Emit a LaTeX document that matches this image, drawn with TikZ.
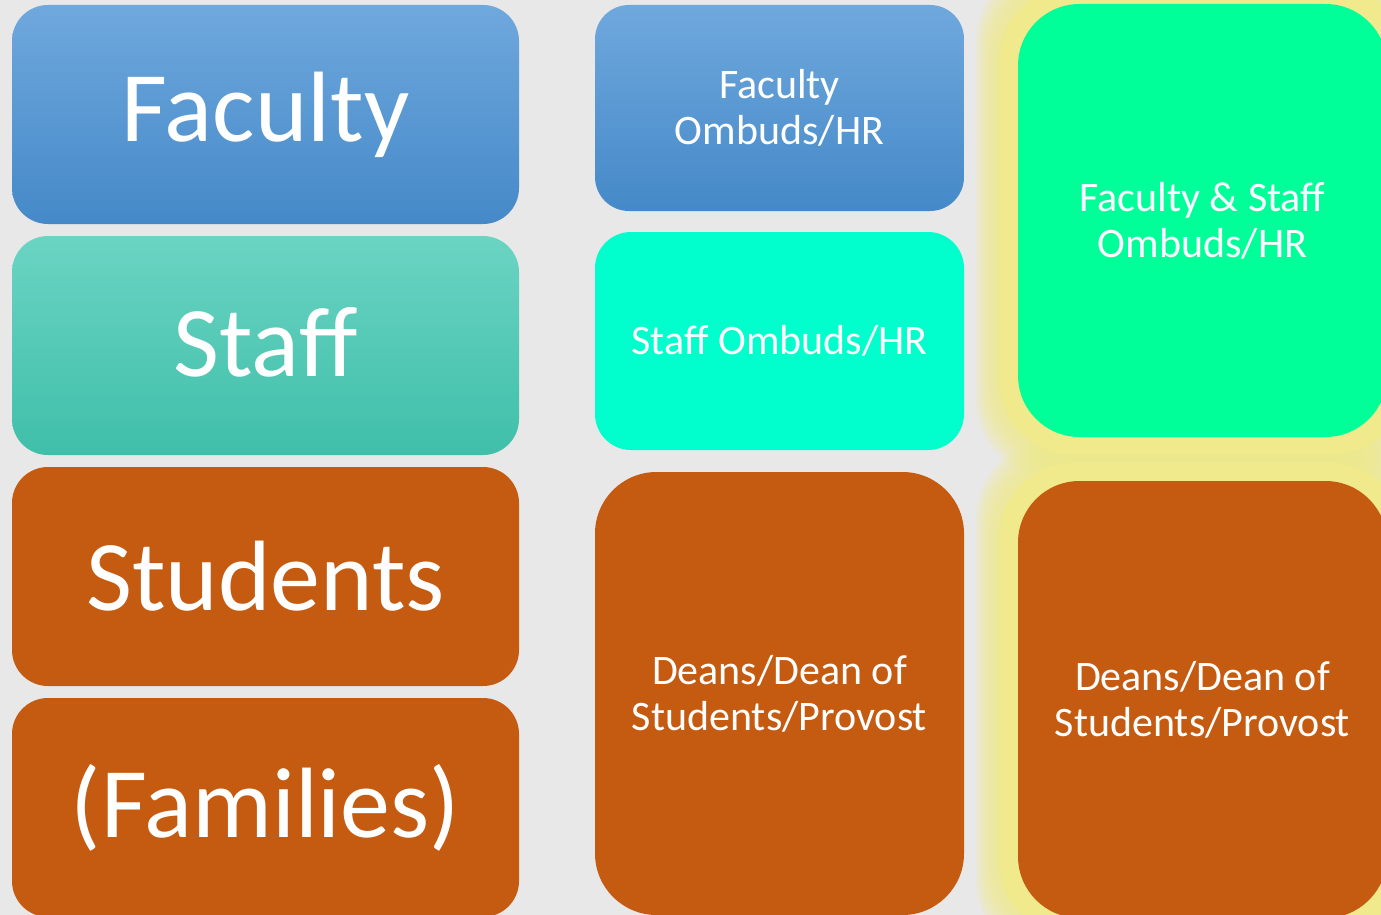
\documentclass[tikz,border=0pt]{standalone}
\usepackage{fontspec}
\setmainfont{Carlito}
\usetikzlibrary{calc}
\pgfdeclarelayer{background}
\pgfdeclarelayer{glowlayer}
\pgfsetlayers{background,glowlayer,main}
\definecolor{bgc}{HTML}{E9E8E8}
\definecolor{blueT}{HTML}{6FA8DD}
\definecolor{blueB}{HTML}{4589C8}
\definecolor{tealT}{HTML}{6BD4C3}
\definecolor{tealB}{HTML}{3FBFA9}
\definecolor{orangec}{HTML}{C55A11}
\definecolor{aquac}{HTML}{00FFCC}
\definecolor{greenc}{HTML}{00FF99}
\definecolor{glowc}{HTML}{F0EA8C}
\begin{document}
\begin{tikzpicture}[x=1pt,y=-1pt,
  box/.style={inner sep=0pt, outer sep=0pt, text=white, align=center},
  bigbox/.style={box, minimum width=507pt, minimum height=219pt, rounded corners=36pt,
    font=\fontsize{100}{110}\selectfont},
  midbox/.style={box, minimum width=369pt, font=\fontsize{42}{46}\selectfont},
  bluefill/.style={top color=blueT, bottom color=blueB},
  tealfill/.style={top color=tealT, bottom color=tealB},
  orangefill/.style={fill=orangec},
  glowsolid/.style={fill=glowc},
  glowsoft/.style={fill=glowc, opacity=0.2}]
\useasboundingbox (0,0) rectangle (1381,915);
\clip (0,0) rectangle (1381,915);
\begin{pgfonlayer}{background}
\fill[bgc] (0,0) rectangle (1381,915);
\end{pgfonlayer}
% left column
\node[bigbox, bluefill] (fac) at (265.5,114.5) {Faculty};
\node[bigbox, tealfill] (stf) at (265.5,345.5) {\raisebox{8pt}{Staff}};
\node[bigbox, orangefill] (stu) at (265.5,576.5) {Students};
\node[bigbox, orangefill] (fam) at (265.5,807.5) {(Families)};
% middle column
\node[midbox, bluefill, minimum height=206pt, rounded corners=34pt] (fob) at (779.5,108) {Faculty\\Ombuds/HR};
\node[midbox, fill=aquac, minimum height=218pt, rounded corners=36pt] (sob) at (779.5,341) {Staff Ombuds/HR};
\node[midbox, orangefill, minimum height=443pt, rounded corners=61.5pt] (dm) at (779.5,693.5) {Deans/Dean of\\Students/Provost};
% right column
\node[midbox, fill=greenc, minimum height=433pt, rounded corners=61.5pt] (fs) at (1202.5,220.5) {Faculty \& Staff\\Ombuds/HR};
\node[midbox, orangefill, minimum height=437pt, rounded corners=61.5pt] (dr) at (1202.5,699.5) {Deans/Dean of\\Students/Provost};
% glow
\begin{pgfonlayer}{glowlayer}
\foreach \n in {fs,dr}{
  \fill[glowsolid, rounded corners=74pt] ($(\n.north west)+(-18,-18)$) rectangle ($(\n.south east)+(18,18)$);
  \foreach \d in {21,24,27,30,33,36,39,42}{
    \fill[glowsoft, rounded corners=80pt] ($(\n.north west)+(-\d,-\d)$) rectangle ($(\n.south east)+(\d,\d)$);
  }
}
\end{pgfonlayer}
\end{tikzpicture}
\end{document}
